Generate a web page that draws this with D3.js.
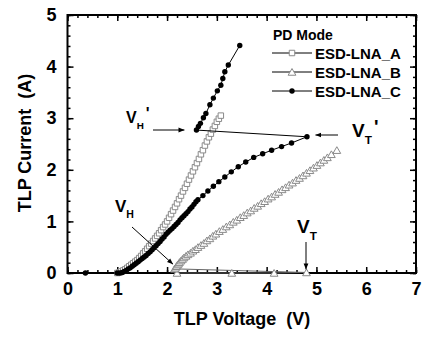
<!DOCTYPE html>
<html>
<head>
<meta charset="utf-8">
<script src="https://cdn.jsdelivr.net/npm/d3@7"></script>
<style>
  body { margin: 0; background: #fff; }
  svg text { font-family: "Liberation Sans", Arial, sans-serif; font-weight: bold; }
</style>
</head>
<body>
<div id="chart"></div>
<script>
// TLP I-V curves, PD mode
const seriesNames = ["ESD-LNA_A", "ESD-LNA_B", "ESD-LNA_C"]
const xTicks = [0, 1, 2, 3, 4, 5, 6, 7]
const yTicks = [0, 1, 2, 3, 4, 5]

const vA = [1.00,1.04,1.08,1.12,1.16,1.20,1.24,1.28,1.32,1.36,1.40,1.44,1.48,1.52,1.56,1.60,1.64,1.68,1.72,1.76,1.80,1.84,1.88,1.92,1.96,2.00,2.04,2.08,2.12,2.16,2.20,2.24,2.28,2.32,2.36,2.40,2.44,2.48,2.52,2.56,2.60,2.64,2.68,2.72,2.76,2.80,2.84,2.88,2.92,2.96,3.00,3.04,3.08]
const iA = [0.00,0.01,0.03,0.05,0.07,0.10,0.13,0.16,0.19,0.22,0.25,0.29,0.33,0.38,0.42,0.47,0.52,0.57,0.62,0.67,0.72,0.77,0.83,0.89,0.94,1.00,1.07,1.14,1.21,1.28,1.35,1.43,1.50,1.58,1.65,1.73,1.81,1.89,1.97,2.05,2.13,2.21,2.30,2.38,2.47,2.55,2.63,2.70,2.78,2.85,2.93,2.99,3.05]

const vB = [2.20,3.30,4.15,4.80,2.15,2.17,2.19,2.21,2.23,2.25,2.28,2.31,2.34,2.38,2.42,2.47,2.52,2.57,2.62,2.68,2.74,2.80,2.86,2.92,2.98,3.05,3.12,3.19,3.26,3.33,3.40,3.47,3.54,3.61,3.68,3.75,3.82,3.89,3.96,4.03,4.10,4.17,4.24,4.31,4.38,4.45,4.52,4.59,4.66,4.73,4.80,4.87,4.94,5.01,5.08,5.15,5.22,5.30,5.41]
const iB = [0.00,0.00,0.00,0.01,0.08,0.10,0.13,0.16,0.18,0.21,0.24,0.27,0.30,0.33,0.36,0.39,0.43,0.46,0.50,0.54,0.58,0.63,0.67,0.72,0.76,0.81,0.85,0.90,0.94,0.99,1.03,1.08,1.12,1.17,1.21,1.26,1.30,1.35,1.39,1.44,1.48,1.53,1.57,1.62,1.66,1.71,1.75,1.80,1.84,1.89,1.94,1.99,2.04,2.09,2.14,2.19,2.24,2.30,2.38]

const vC = [0.36,1.00,1.05,1.10,1.14,1.18,1.22,1.26,1.30,1.34,1.38,1.42,1.46,1.50,1.54,1.58,1.62,1.66,1.70,1.74,1.78,1.82,1.86,1.90,1.94,1.98,2.02,2.06,2.10,2.14,2.18,2.22,2.26,2.30,2.34,2.38,2.42,2.46,2.50,2.54,2.58,2.62,2.72,2.82,2.93,3.04,3.16,3.29,3.43,3.58,3.74,3.92,4.10,4.30,4.50,4.81,2.59,2.63,2.67,2.73,2.78,2.86,2.93,3.01,3.08,3.12,3.16,3.23,3.46]
const iC = [0.00,0.00,0.00,0.01,0.03,0.05,0.08,0.10,0.13,0.16,0.19,0.22,0.25,0.28,0.31,0.34,0.38,0.41,0.45,0.49,0.53,0.57,0.61,0.66,0.70,0.75,0.79,0.83,0.86,0.90,0.94,0.98,1.03,1.07,1.11,1.15,1.19,1.24,1.28,1.33,1.38,1.42,1.50,1.59,1.68,1.77,1.86,1.96,2.06,2.15,2.24,2.31,2.38,2.45,2.52,2.64,2.77,2.84,2.90,3.01,3.09,3.26,3.39,3.53,3.64,3.77,3.90,4.03,4.41]

const width = 423
const height = 337
const margin = { top: 15, right: 7, bottom: 64, left: 67.5 }
const plotW = width - margin.left - margin.right
const plotH = height - margin.top - margin.bottom

const svg = d3.select("#chart").append("svg")
  .attr("width", width)
  .attr("height", height)

const defs = svg.append("defs")
defs.append("marker")
  .attr("id", "arrow")
  .attr("viewBox", "0 0 10 10")
  .attr("refX", 10)
  .attr("refY", 5)
  .attr("markerWidth", 6)
  .attr("markerHeight", 6)
  .attr("markerUnits", "userSpaceOnUse")
  .attr("orient", "auto")
  .append("path")
  .attr("d", "M0,1 L10,5 L0,9 Z")
  .attr("fill", "#000")

const g = svg.append("g").attr("transform", `translate(${margin.left},${margin.top})`)

const x = d3.scaleLinear().domain([0, 7]).range([0, plotW])
const y = d3.scaleLinear().domain([0, 5]).range([plotH, 0])

const minorX = d3.range(0, 7.001, 0.2).map(d => +d.toFixed(1))
const minorY = d3.range(0, 5.001, 0.2).map(d => +d.toFixed(1))

// ticks on all four sides, pointing inward
function drawTicks(axisFn, scale, values, size, transform) {
  g.append("g")
    .attr("transform", transform)
    .call(axisFn(scale).tickValues(values).tickSize(size).tickFormat(""))
    .call(a => a.select(".domain").remove())
    .selectAll("line").attr("stroke", "#000").attr("stroke-width", 1.5)
}
drawTicks(d3.axisBottom, x, minorX, -3, `translate(0,${plotH})`)
drawTicks(d3.axisBottom, x, xTicks, -6, `translate(0,${plotH})`)
drawTicks(d3.axisTop, x, minorX, -3, "translate(0,0)")
drawTicks(d3.axisTop, x, xTicks, -6, "translate(0,0)")
drawTicks(d3.axisLeft, y, minorY, -3, "translate(0,0)")
drawTicks(d3.axisLeft, y, yTicks, -6, "translate(0,0)")
drawTicks(d3.axisRight, y, minorY, -3, `translate(${plotW},0)`)
drawTicks(d3.axisRight, y, yTicks, -6, `translate(${plotW},0)`)

// tick labels
g.append("g")
  .attr("transform", `translate(0,${plotH})`)
  .call(d3.axisBottom(x).tickValues(xTicks).tickFormat(d3.format("d")).tickSize(0).tickPadding(9))
  .call(a => a.select(".domain").remove())
  .selectAll("text")
  .style("font-size", "18px")
  .attr("fill", "#000")

g.append("g")
  .call(d3.axisLeft(y).tickValues(yTicks).tickFormat(d3.format("d")).tickSize(0).tickPadding(11))
  .call(a => a.select(".domain").remove())
  .selectAll("text")
  .style("font-size", "18px")
  .attr("fill", "#000")

// frame
g.append("rect")
  .attr("width", plotW)
  .attr("height", plotH)
  .attr("fill", "none")
  .attr("stroke", "#000")
  .attr("stroke-width", 2)

// axis titles
svg.append("text")
  .attr("x", 242)
  .attr("y", 325)
  .attr("text-anchor", "middle")
  .style("font-size", "18px")
  .style("white-space", "pre")
  .text("TLP Voltage  (V)")

svg.append("text")
  .attr("transform", "translate(31,143) rotate(-90)")
  .attr("text-anchor", "middle")
  .style("font-size", "18px")
  .style("white-space", "pre")
  .text("TLP Current  (A)")

// series
const toPts = (vs, is) => vs.map((v, k) => ({ v: v, i: is[k] }))
const dataA = toPts(vA, iA)
const dataB = toPts(vB, iB)
const dataC = toPts(vC, iC)

const line = d3.line().x(d => x(d.v)).y(d => y(d.i))
const sqr = d3.symbol().type(d3.symbolSquare).size(30)
const tri = d3.symbol().type(d3.symbolTriangle).size(26)

const plot = g.append("g")

// A
plot.append("path").datum(dataA).attr("d", line)
  .attr("fill", "none").attr("stroke", "#888").attr("stroke-width", 1)
plot.selectAll(".ptA").data(dataA).join("path")
  .attr("class", "ptA")
  .attr("d", sqr)
  .attr("transform", d => `translate(${x(d.v)},${y(d.i)})`)
  .attr("fill", "#fff").attr("stroke", "#8a8a8a").attr("stroke-width", 1)

// B
plot.append("path").datum(dataB).attr("d", line)
  .attr("fill", "none").attr("stroke", "#666").attr("stroke-width", 1)
plot.selectAll(".ptB").data(dataB).join("path")
  .attr("class", "ptB")
  .attr("d", tri)
  .attr("transform", d => `translate(${x(d.v)},${y(d.i) + 1})`)
  .attr("fill", "#fff").attr("stroke", "#8a8a8a").attr("stroke-width", 1)

// C
plot.append("path").datum(dataC).attr("d", line)
  .attr("fill", "none").attr("stroke", "#000").attr("stroke-width", 1)
plot.selectAll(".ptC").data(dataC).join("circle")
  .attr("class", "ptC")
  .attr("cx", d => x(d.v))
  .attr("cy", d => y(d.i))
  .attr("r", 2.7)
  .attr("fill", "#000")

// legend
const legend = svg.append("g")
legend.append("text").attr("x", 273).attr("y", 40).style("font-size", "14px").text("PD Mode")
const legY = [53, 72, 91]
seriesNames.forEach((name, k) => {
  const ly = legY[k]
  legend.append("line").attr("x1", 272).attr("x2", 312).attr("y1", ly).attr("y2", ly)
    .attr("stroke", "#000").attr("stroke-width", 1)
  if (k === 0) {
    legend.append("path").attr("d", sqr).attr("transform", `translate(292,${ly})`)
      .attr("fill", "#fff").attr("stroke", "#8a8a8a")
  } else if (k === 1) {
    legend.append("path").attr("d", tri).attr("transform", `translate(292,${ly + 1})`)
      .attr("fill", "#fff").attr("stroke", "#8a8a8a")
  } else {
    legend.append("circle").attr("cx", 292).attr("cy", ly).attr("r", 2.7).attr("fill", "#000")
  }
  legend.append("text").attr("x", 315).attr("y", ly + 5.5).style("font-size", "15px").text(name)
})

// annotations
function label(xp, yp, main, sub, prime, size) {
  const t = svg.append("text").attr("x", xp).attr("y", yp).style("font-size", size + "px")
  t.append("tspan").text(main)
  t.append("tspan").attr("dy", size * 0.38).style("font-size", (size * 0.62) + "px").text(sub)
  if (prime) t.append("tspan").attr("dy", -size * 0.6).attr("dx", 2).text("'")
}
function arrow(x1, y1, x2, y2) {
  svg.append("line").attr("x1", x1).attr("y1", y1).attr("x2", x2).attr("y2", y2)
    .attr("stroke", "#000").attr("stroke-width", 1).attr("marker-end", "url(#arrow)")
}
label(126, 123, "V", "H", true, 16)
arrow(153, 130, margin.left + x(2.35), 130)
label(352, 137, "V", "T", true, 19)
arrow(338, 135, margin.left + x(4.98), 135)
label(115, 212, "V", "H", false, 17)
arrow(132, 227, margin.left + x(2.12), margin.top + y(0.17))
label(297, 233, "V", "T", false, 19)
arrow(306, 242, 306, margin.top + y(0.07))
</script>
</body>
</html>
